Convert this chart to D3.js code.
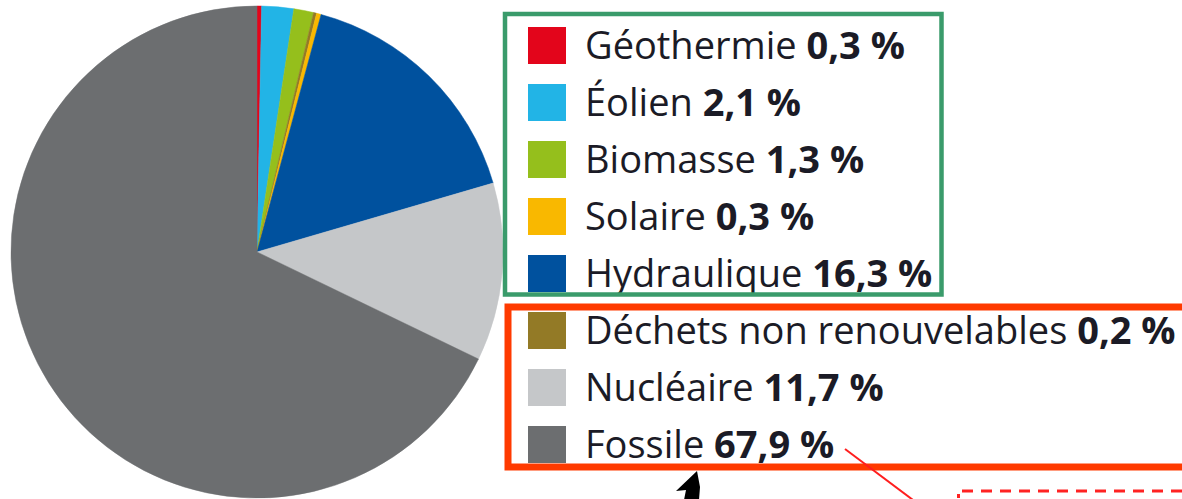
<!DOCTYPE html>
<html lang="fr">
<head>
<meta charset="UTF-8">
<title>Production d'électricité</title>
<style>
    body { margin: 0; background: #fff; }
    svg { display: block; }
    .lbl { font-family: "Open Sans", sans-serif; fill: #1b1b26; }
</style>
</head>
<body>
<svg width="1182" height="499"></svg>
<script src="https://d3js.org/d3.v7.min.js"></script>
<script>
    // sources, ordre de la légende
    const categories = ["Géothermie", "Éolien", "Biomasse", "Solaire", "Hydraulique",
        "Déchets non renouvelables", "Nucléaire", "Fossile"];
    const values = [0.3, 2.1, 1.3, 0.3, 16.3, 0.2, 11.7, 67.9];
    const colors = ["#e3051b", "#22b4e6", "#95bf1c", "#f9b800", "#00519e",
        "#937a26", "#c5c7c9", "#6c6e70"];
    // ordre des parts dans le camembert (sens horaire depuis le haut)
    const pieOrder = ["Géothermie", "Éolien", "Biomasse", "Déchets non renouvelables",
        "Solaire", "Hydraulique", "Nucléaire", "Fossile"];

    const svg = d3.select("svg");
    const fmt = v => d3.format(".1f")(v).replace(".", ",") + " %";

    const data = categories.map((c, i) => ({name: c, value: values[i], color: colors[i]}));
    const byName = new Map(data.map(d => [d.name, d]));

    // camembert
    const cx = 257, cy = 252, r = 246;
    const pie = d3.pie().sort(null).value(d => d.value);
    const arc = d3.arc().innerRadius(0).outerRadius(r);
    svg.append("g")
        .attr("transform", `translate(${cx},${cy})`)
        .selectAll("path")
        .data(pie(pieOrder.map(n => byName.get(n))))
        .join("path")
        .attr("d", arc)
        .attr("fill", d => d.data.color)
        .attr("stroke", d => d.data.color)
        .attr("stroke-width", 0.5);

    // légende
    const y = d3.scaleLinear().domain([0, 1]).range([59, 116]);
    const leg = svg.append("g");
    const rows = leg.selectAll("g")
        .data(data)
        .join("g")
        .attr("transform", (d, i) => `translate(0,${y(i)})`);
    rows.append("rect")
        .attr("x", 528).attr("y", -32)
        .attr("width", 38).attr("height", 37)
        .attr("fill", d => d.color);
    const txt = rows.append("text")
        .attr("class", "lbl")
        .attr("x", 585)
        .attr("font-size", 38);
    txt.append("tspan").text(d => d.name + " ");
    txt.append("tspan").attr("font-weight", "bold").text(d => fmt(d.value));

    // cadres
    svg.append("rect")
        .attr("x", 505).attr("y", 14)
        .attr("width", 436.5).attr("height", 280.5)
        .attr("fill", "none")
        .attr("stroke", "#3a9b6b")
        .attr("stroke-width", 4.5);
    svg.append("rect")
        .attr("x", 508).attr("y", 307)
        .attr("width", 700).attr("height", 160)
        .attr("fill", "none")
        .attr("stroke", "#ff3a00")
        .attr("stroke-width", 7);

    // annotations du bas
    svg.append("line")
        .attr("x1", 845).attr("y1", 449)
        .attr("x2", 913).attr("y2", 500)
        .attr("stroke", "#ff1e1e")
        .attr("stroke-width", 2);
    svg.append("path")
        .attr("d", "M962,491H1190")
        .attr("stroke", "#ff2222")
        .attr("stroke-width", 3)
        .attr("stroke-dasharray", "11 8");
    svg.append("path")
        .attr("d", "M958.5,494V500")
        .attr("stroke", "#ff2222")
        .attr("stroke-width", 3)
        .attr("stroke-dasharray", "4 4");
    svg.append("path")
        .attr("d", "M697,471L676,491L686,490L684,500L699,500L700,487Z")
        .attr("fill", "#000");
</script>
</body>
</html>
